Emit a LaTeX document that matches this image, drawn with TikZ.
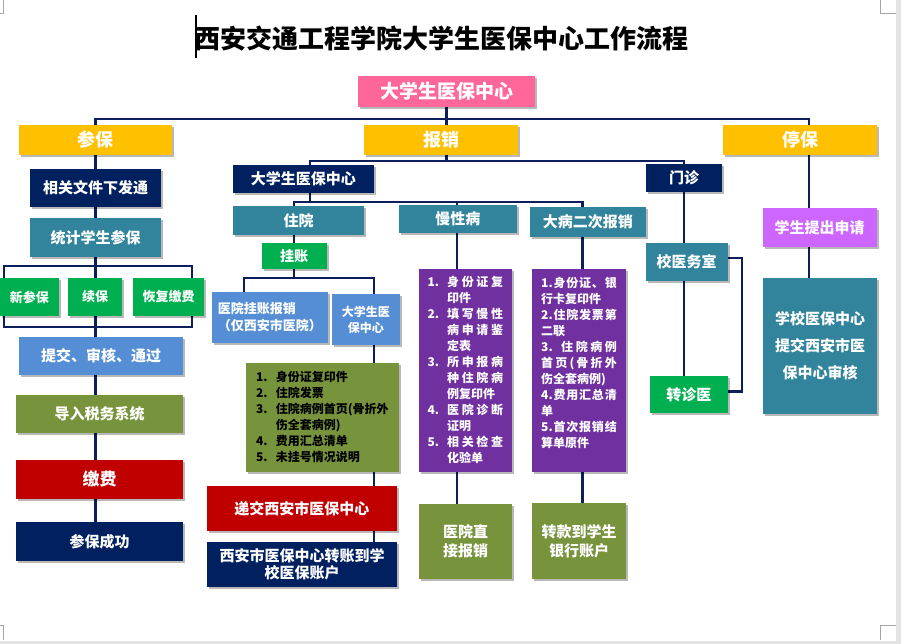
\documentclass[tikz,border=0pt]{standalone}
\usepackage{fontspec}
\setmainfont{Noto Sans CJK SC}
\usetikzlibrary{shadows}
\definecolor{navy}{HTML}{002060}
\definecolor{tealb}{HTML}{31849B}
\definecolor{ylw}{HTML}{FFC000}
\definecolor{pnk}{HTML}{FF6699}
\definecolor{grn}{HTML}{00B050}
\definecolor{cfb}{HTML}{558ED5}
\definecolor{olv}{HTML}{77933C}
\definecolor{rdd}{HTML}{C00000}
\definecolor{prp}{HTML}{7030A0}
\definecolor{lav}{HTML}{CC66FF}
\definecolor{lnc}{HTML}{0C1E5B}
\pgfdeclarelayer{back}\pgfdeclarelayer{bg}\pgfsetlayers{back,bg,main}
\newcommand\bx[7]{\node[box,#6,minimum width={(#4-#2)*1pt},minimum height={(#5-#3)*1pt}] (#1) at ({(#2+#4)/2},{(#3+#5)/2}) {#7};}
\newcommand\spr[2]{\makebox[#1][s]{#2}}
\newcommand\nb[1]{\makebox[19.6pt][l]{#1}}
\tikzset{
  box/.style={inner sep=0pt, text=white, align=center,
    drop shadow={shadow xshift=2pt, shadow yshift=-2pt, fill=black, opacity=.28}},
  f12/.style={font=\fontsize{12}{16}\selectfont\bfseries},
  f13/.style={font=\fontsize{13}{17}\selectfont\bfseries},
  f14/.style={font=\fontsize{14}{17}\selectfont\bfseries},
  f15/.style={font=\fontsize{15}{18}\selectfont\bfseries},
  f15b/.style={font=\fontsize{15}{16.7}\selectfont\bfseries},
  f15c/.style={font=\fontsize{15}{19}\selectfont\bfseries},
  f15d/.style={font=\fontsize{15}{27}\selectfont\bfseries},
  f17/.style={font=\fontsize{17}{20}\selectfont\bfseries},
  f18/.style={font=\fontsize{18}{21}\selectfont\bfseries},
  f19/.style={font=\fontsize{19}{22}\selectfont\bfseries},
  conn/.style={draw=lnc, line width=2.8pt},
  pagemark/.style={draw=black!35, line width=0.8pt},
}
\begin{document}
\begin{tikzpicture}[x=1pt,y=-1pt]
\useasboundingbox (0,0) rectangle (901,644);
\begin{pgfonlayer}{back}
\fill[white] (0,0) rectangle (901,644);
\fill[black!11] (896,0) rectangle (901,644);
\fill[black!11] (0,641) rectangle (901,644);
\draw[pagemark] (3,0) -- (3,13) -- (0,13);
\draw[pagemark] (880,0) -- (880,13) -- (896,13);
\draw[pagemark] (896,625) -- (880,625) -- (880,640);
\draw[pagemark] (0,625) -- (3,625) -- (3,640);
\end{pgfonlayer}

% title
\node[font=\fontsize{26}{30}\selectfont\bfseries, text=black] (title) at (441.7,38.7) {西安交通工程学院大学生医保中心工作流程};
\draw[line width=1.2pt] (196,15) -- (196,58);

% top level
\bx{pink}{358}{76}{535}{107}{fill=pnk,f19}{大学生医保中心}
\bx{canbao}{19}{125}{172}{155}{fill=ylw,f18}{参保}
\bx{baoxiao}{364}{125}{518}{155}{fill=ylw,f18}{报销}
\bx{tingbao}{723}{125}{877}{155}{fill=ylw,f18}{停保}

% left column
\bx{xgwj}{30}{169}{161}{207}{fill=navy,f15}{相关文件下发通}
\bx{tjcb}{30}{218}{161}{257}{fill=tealb,f15}{统计学生参保}
\bx{xcb}{0}{278}{58.7}{316}{fill=grn,f13}{新参保}
\bx{xb}{68}{278}{122}{316}{fill=grn,f13}{续保}
\bx{hfjf}{133}{278}{204}{316}{fill=grn,f13}{恢复缴费}
\bx{tjsh}{19}{337}{183}{375}{fill=cfb,f15}{提交、审核、通过}
\bx{drsw}{16}{395}{183}{433}{fill=olv,f15}{导入税务系统}
\bx{jf}{16}{460}{183}{499}{fill=rdd,f17}{缴费}
\bx{cbcg}{16}{522}{183}{561}{fill=navy,f15}{参保成功}

% middle
\bx{dxs1}{232.7}{165}{374}{192.7}{fill=navy,f15}{大学生医保中心}
\bx{menzhen}{646}{164}{722}{192}{fill=navy,f15}{门诊}
\bx{zhuyuan}{233}{206}{364}{235}{fill=tealb,f15}{住院}
\bx{mxb}{399}{205}{516.7}{233}{fill=tealb,f15}{慢性病}
\bx{dbec}{530}{207}{645.7}{236.7}{fill=tealb,f15}{大病二次报销}
\bx{guazhang}{261.7}{243}{326.7}{268.7}{fill=grn,f14}{挂账}
\bx{yygz}{212}{292}{327.7}{343}{fill=cfb,f13,align=left}{医院挂账报销\\（仅西安市医院）}
\bx{dxs2}{332}{294}{399.7}{345}{fill=cfb,f12}{大学生医\\保中心}
\bx{list1}{246}{363}{398.7}{471.7}{fill=olv,f12,text=black,align=left}{%
\nb{1.}身份证复印件\\
\nb{2.}住院发票\\
\nb{3.}住院病例首页(骨折外\\
\nb{}伤全套病例)\\
\nb{4.}费用汇总清单\\
\nb{5.}未挂号情况说明}
\bx{djxa}{207}{486}{396.7}{530.7}{fill=rdd,f15}{递交西安市医保中心}
\bx{xazz}{207}{542}{397}{586.7}{fill=navy,f15b}{西安市医保中心转账到学\\校医保账户}
\bx{list2}{419}{269}{511.7}{471.7}{fill=prp,f12,align=left}{%
\nb{1.}\spr{56pt}{身\hfill 份\hfill 证\hfill 复}\\
\nb{}印件\\
\nb{2.}\spr{56pt}{填\hfill 写\hfill 慢\hfill 性}\\
\nb{}\spr{56pt}{病\hfill 申\hfill 请\hfill 鉴}\\
\nb{}定表\\
\nb{3.}\spr{56pt}{所\hfill 申\hfill 报\hfill 病}\\
\nb{}\spr{56pt}{种\hfill 住\hfill 院\hfill 病}\\
\nb{}例复印件\\
\nb{4.}\spr{56pt}{医\hfill 院\hfill 诊\hfill 断}\\
\nb{}证明\\
\nb{5.}\spr{56pt}{相\hfill 关\hfill 检\hfill 查}\\
\nb{}化验单}
\bx{yyzj}{419}{504}{512}{579.3}{fill=olv,f15c}{医院直\\接报销}
\bx{list3}{532}{269}{626}{472}{fill=prp,f12,align=left}{%
\spr{75.6pt}{1.\hfill 身\hfill 份\hfill 证\hfill 、\hfill 银}\\
行卡复印件\\
\spr{75.6pt}{2.\hfill 住\hfill 院\hfill 发\hfill 票\hfill 第}\\
二联\\
\spr{75.6pt}{3.\hspace{6pt}\hfill 住\hfill 院\hfill 病\hfill 例}\\
\spr{75.6pt}{首\hfill 页\hfill (\hfill 骨\hfill 折\hfill 外}\\
伤全套病例)\\
\spr{75.6pt}{4.\hfill 费\hfill 用\hfill 汇\hfill 总\hfill 清}\\
单\\
\spr{75.6pt}{5.\hfill 首\hfill 次\hfill 报\hfill 销\hfill 结}\\
算单原件\\
\mbox{}}
\bx{zkdx}{532}{503}{626}{579}{fill=olv,f15c}{转款到学生\\银行账户}

% right
\bx{xyws}{645.7}{243}{727.7}{280.7}{fill=tealb,f15}{校医务室}
\bx{zzy}{650}{376}{727.7}{413.3}{fill=grn,f15}{转诊医}
\bx{xstc}{762.7}{208}{876.7}{246.7}{fill=lav,f15}{学生提出申请}
\bx{xxyb}{763}{278}{877}{414}{fill=tealb,f15d}{学校医保中心\\提交西安市医\\保中心审核}

% guide coordinates
\coordinate (vA) at (95.5,0);
\coordinate (vB) at (446.7,0);
\coordinate (vC) at (809,0);
\coordinate (vD) at (310,0);
\coordinate (vE) at (684,0);
\coordinate (vF) at (294,0);
\coordinate (vG) at (457,0);
\coordinate (vH) at (582.7,0);
\coordinate (vI) at (244,0);
\coordinate (vJ) at (374,0);
\coordinate (h1) at (0,119);
\coordinate (h2) at (0,161);
\coordinate (h3) at (0,202);
\coordinate (h4) at (0,278);

\begin{pgfonlayer}{bg}
\draw[conn] (vA |- canbao.north) -- (vA |- h1) -- (vC |- h1) -- (vC |- tingbao.north);
\draw[conn] (vB |- pink.south) -- (vB |- baoxiao.north);
\draw[conn] (vA |- canbao.south) -- (vA |- cbcg.north);
\draw[conn] (4,266) rectangle (192,327);
\draw[conn] (vB |- baoxiao.south) -- (vB |- h2);
\draw[conn] (vD |- dxs1.north) -- (vD |- h2) -- (vE |- h2) -- (vE |- menzhen.north);
\draw[conn] (vD |- dxs1.south) -- (vD |- h3);
\draw[conn] (vF |- zhuyuan.north) -- (vF |- h3) -- (vH |- h3) -- (vH |- dbec.north);
\draw[conn] (vG |- h3) -- (vG |- mxb.north);
\draw[conn] (vF |- zhuyuan.south) -- (vF |- guazhang.north);
\draw[conn] (vF |- guazhang.south) -- (vF |- h4);
\draw[conn] (vI |- yygz.north) -- (vI |- h4) -- (vJ |- h4) -- (vJ |- dxs2.north);
\draw[conn] (vJ |- dxs2.south) -- (vJ |- xazz.north);
\draw[conn] (vG |- mxb.south) -- (vG |- yyzj.north);
\draw[conn] (vH |- dbec.south) -- (vH |- zkdx.north);
\draw[conn] (vE |- menzhen.south) -- (vE |- zzy.north);
\draw[conn] ([yshift=3.8pt]xyws.east) -- ++(14,0) |- ([yshift=3pt]zzy.east);
\draw[conn] (vC |- tingbao.south) -- (vC |- xxyb.north);
\end{pgfonlayer}
\end{tikzpicture}
\end{document}
